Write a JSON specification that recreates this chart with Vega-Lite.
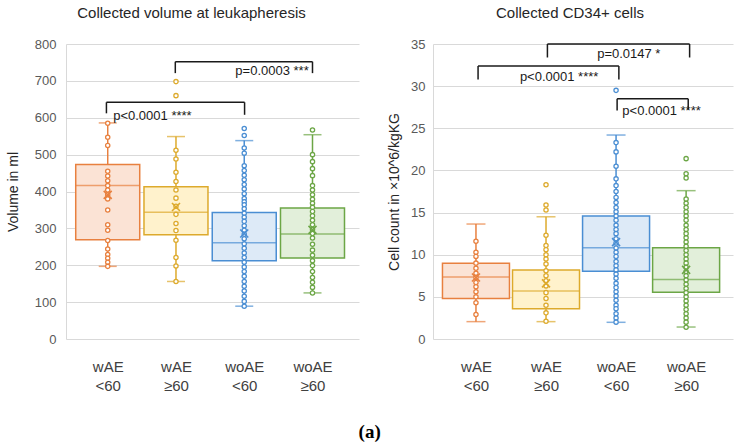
{
  "$schema": "https://vega.github.io/schema/vega-lite/v6.json",
  "background": "white",
  "padding": {"left": 6, "top": 6, "right": 5, "bottom": 5},
  "config": {
    "font": "Liberation Sans",
    "view": {"stroke": null},
    "axis": {"labelFont": "Liberation Sans", "titleFont": "Liberation Sans"}
  },
  "title": {"text": "(a)", "orient": "bottom", "anchor": "middle", "font": "Liberation Serif", "fontSize": 19, "fontWeight": "bold", "color": "#000000", "offset": 30},
  "spacing": 28,
  "datasets": {
    "boxL": [
      {"g": 1, "lo": 197, "q1": 269, "med": 416, "q3": 473, "hi": 586, "mean": 391},
      {"g": 2, "lo": 156, "q1": 283, "med": 344, "q3": 413, "hi": 549, "mean": 358},
      {"g": 3, "lo": 89, "q1": 212, "med": 261, "q3": 343, "hi": 538, "mean": 286},
      {"g": 4, "lo": 125, "q1": 220, "med": 285, "q3": 355, "hi": 554, "mean": 296}
    ],
    "ptsL": [
      {"g": 1, "v": 585}, {"g": 1, "v": 547}, {"g": 1, "v": 525}, {"g": 1, "v": 455}, {"g": 1, "v": 442}, {"g": 1, "v": 429}, {"g": 1, "v": 416}, {"g": 1, "v": 404}, {"g": 1, "v": 391}, {"g": 1, "v": 380}, {"g": 1, "v": 350}, {"g": 1, "v": 310}, {"g": 1, "v": 295}, {"g": 1, "v": 267}, {"g": 1, "v": 244}, {"g": 1, "v": 229}, {"g": 1, "v": 219}, {"g": 1, "v": 208}, {"g": 1, "v": 197},
      {"g": 2, "v": 698}, {"g": 2, "v": 660}, {"g": 2, "v": 512}, {"g": 2, "v": 488}, {"g": 2, "v": 452}, {"g": 2, "v": 427}, {"g": 2, "v": 404}, {"g": 2, "v": 382}, {"g": 2, "v": 360}, {"g": 2, "v": 338}, {"g": 2, "v": 313}, {"g": 2, "v": 294}, {"g": 2, "v": 268}, {"g": 2, "v": 221}, {"g": 2, "v": 198}, {"g": 2, "v": 156},
      {"g": 3, "v": 571}, {"g": 3, "v": 552}, {"g": 3, "v": 518}, {"g": 3, "v": 504}, {"g": 3, "v": 470}, {"g": 3, "v": 457}, {"g": 3, "v": 444}, {"g": 3, "v": 432}, {"g": 3, "v": 419}, {"g": 3, "v": 407}, {"g": 3, "v": 394}, {"g": 3, "v": 381}, {"g": 3, "v": 372}, {"g": 3, "v": 364}, {"g": 3, "v": 353}, {"g": 3, "v": 341}, {"g": 3, "v": 330}, {"g": 3, "v": 319}, {"g": 3, "v": 307}, {"g": 3, "v": 295}, {"g": 3, "v": 284}, {"g": 3, "v": 272}, {"g": 3, "v": 258}, {"g": 3, "v": 246}, {"g": 3, "v": 233}, {"g": 3, "v": 221}, {"g": 3, "v": 208}, {"g": 3, "v": 195}, {"g": 3, "v": 183}, {"g": 3, "v": 170}, {"g": 3, "v": 156}, {"g": 3, "v": 143}, {"g": 3, "v": 130}, {"g": 3, "v": 116}, {"g": 3, "v": 102}, {"g": 3, "v": 89},
      {"g": 4, "v": 567}, {"g": 4, "v": 500}, {"g": 4, "v": 481}, {"g": 4, "v": 462}, {"g": 4, "v": 443}, {"g": 4, "v": 416}, {"g": 4, "v": 404}, {"g": 4, "v": 391}, {"g": 4, "v": 379}, {"g": 4, "v": 368}, {"g": 4, "v": 357}, {"g": 4, "v": 346}, {"g": 4, "v": 334}, {"g": 4, "v": 322}, {"g": 4, "v": 310}, {"g": 4, "v": 297}, {"g": 4, "v": 286}, {"g": 4, "v": 274}, {"g": 4, "v": 257}, {"g": 4, "v": 241}, {"g": 4, "v": 227}, {"g": 4, "v": 212}, {"g": 4, "v": 199}, {"g": 4, "v": 183}, {"g": 4, "v": 167}, {"g": 4, "v": 154}, {"g": 4, "v": 140}, {"g": 4, "v": 125}
    ],
    "brkL": [
      {"x": 0.981, "x2": 3.005, "y": 642, "y2": 642},
      {"x": 0.981, "x2": 0.981, "y": 642, "y2": 612},
      {"x": 3.005, "x2": 3.005, "y": 642, "y2": 608},
      {"x": 1.99, "x2": 4.0, "y": 752, "y2": 752},
      {"x": 1.99, "x2": 1.99, "y": 752, "y2": 721},
      {"x": 4.0, "x2": 4.0, "y": 752, "y2": 721}
    ],
    "txtL": [
      {"x": 1.08, "y": 605, "t": "p<0.0001 ****"},
      {"x": 2.87, "y": 727, "t": "p=0.0003 ***"}
    ],
    "boxR": [
      {"g": 1, "lo": 2.06, "q1": 4.8, "med": 7.36, "q3": 8.98, "hi": 13.64, "mean": 7.3},
      {"g": 2, "lo": 2.06, "q1": 3.58, "med": 5.7, "q3": 8.19, "hi": 14.5, "mean": 6.6},
      {"g": 3, "lo": 1.98, "q1": 8.03, "med": 10.84, "q3": 14.6, "hi": 24.2, "mean": 11.5},
      {"g": 4, "lo": 1.42, "q1": 5.54, "med": 7.05, "q3": 10.84, "hi": 17.6, "mean": 8.2}
    ],
    "ptsR": [
      {"g": 1, "v": 11.6}, {"g": 1, "v": 10.3}, {"g": 1, "v": 9.8}, {"g": 1, "v": 9.0}, {"g": 1, "v": 8.4}, {"g": 1, "v": 7.8}, {"g": 1, "v": 7.3}, {"g": 1, "v": 6.7}, {"g": 1, "v": 6.2}, {"g": 1, "v": 5.6}, {"g": 1, "v": 5.0}, {"g": 1, "v": 4.3}, {"g": 1, "v": 2.9},
      {"g": 2, "v": 18.3}, {"g": 2, "v": 15.9}, {"g": 2, "v": 15.3}, {"g": 2, "v": 12.3}, {"g": 2, "v": 11.1}, {"g": 2, "v": 10.6}, {"g": 2, "v": 10.0}, {"g": 2, "v": 9.5}, {"g": 2, "v": 8.9}, {"g": 2, "v": 8.1}, {"g": 2, "v": 7.5}, {"g": 2, "v": 6.9}, {"g": 2, "v": 6.3}, {"g": 2, "v": 5.5}, {"g": 2, "v": 4.8}, {"g": 2, "v": 4.0}, {"g": 2, "v": 3.1}, {"g": 2, "v": 2.1},
      {"g": 3, "v": 29.5}, {"g": 3, "v": 23.3}, {"g": 3, "v": 22.2}, {"g": 3, "v": 20.5}, {"g": 3, "v": 19.0}, {"g": 3, "v": 18.2}, {"g": 3, "v": 17.5}, {"g": 3, "v": 16.8}, {"g": 3, "v": 16.2}, {"g": 3, "v": 15.6}, {"g": 3, "v": 15.1}, {"g": 3, "v": 14.6}, {"g": 3, "v": 14.1}, {"g": 3, "v": 13.5}, {"g": 3, "v": 13.0}, {"g": 3, "v": 12.5}, {"g": 3, "v": 11.9}, {"g": 3, "v": 11.4}, {"g": 3, "v": 10.8}, {"g": 3, "v": 10.3}, {"g": 3, "v": 9.8}, {"g": 3, "v": 9.2}, {"g": 3, "v": 8.7}, {"g": 3, "v": 8.2}, {"g": 3, "v": 7.7}, {"g": 3, "v": 7.2}, {"g": 3, "v": 6.6}, {"g": 3, "v": 6.1}, {"g": 3, "v": 5.6}, {"g": 3, "v": 5.1}, {"g": 3, "v": 4.6}, {"g": 3, "v": 4.0}, {"g": 3, "v": 3.6}, {"g": 3, "v": 3.0}, {"g": 3, "v": 2.5}, {"g": 3, "v": 2.0},
      {"g": 4, "v": 21.4}, {"g": 4, "v": 19.6}, {"g": 4, "v": 19.1}, {"g": 4, "v": 16.6}, {"g": 4, "v": 16.1}, {"g": 4, "v": 15.6}, {"g": 4, "v": 15.1}, {"g": 4, "v": 14.6}, {"g": 4, "v": 14.1}, {"g": 4, "v": 13.5}, {"g": 4, "v": 13.0}, {"g": 4, "v": 12.5}, {"g": 4, "v": 12.0}, {"g": 4, "v": 11.5}, {"g": 4, "v": 11.0}, {"g": 4, "v": 10.5}, {"g": 4, "v": 10.0}, {"g": 4, "v": 9.5}, {"g": 4, "v": 9.0}, {"g": 4, "v": 8.5}, {"g": 4, "v": 8.0}, {"g": 4, "v": 7.5}, {"g": 4, "v": 7.0}, {"g": 4, "v": 6.5}, {"g": 4, "v": 6.0}, {"g": 4, "v": 5.5}, {"g": 4, "v": 5.0}, {"g": 4, "v": 4.5}, {"g": 4, "v": 4.0}, {"g": 4, "v": 3.5}, {"g": 4, "v": 3.0}, {"g": 4, "v": 2.5}, {"g": 4, "v": 2.0}, {"g": 4, "v": 1.4}
    ],
    "brkR": [
      {"x": 2.02, "x2": 4.05, "y": 35.0, "y2": 35.0},
      {"x": 2.02, "x2": 2.02, "y": 35.0, "y2": 33.4},
      {"x": 4.05, "x2": 4.05, "y": 35.0, "y2": 33.4},
      {"x": 1.03, "x2": 3.04, "y": 32.4, "y2": 32.4},
      {"x": 1.03, "x2": 1.03, "y": 32.4, "y2": 30.8},
      {"x": 3.04, "x2": 3.04, "y": 32.4, "y2": 30.8},
      {"x": 3.015, "x2": 4.03, "y": 28.5, "y2": 28.5},
      {"x": 3.015, "x2": 3.015, "y": 28.5, "y2": 27.1},
      {"x": 4.03, "x2": 4.03, "y": 28.5, "y2": 27.2}
    ],
    "txtR": [
      {"x": 2.73, "y": 33.8, "t": "p=0.0147 *"},
      {"x": 1.627, "y": 31.1, "t": "p<0.0001 ****"},
      {"x": 3.09, "y": 27.07, "t": "p<0.0001 ****"}
    ]
  },
  "hconcat": [
    {
      "width": 293,
      "height": 295,
      "title": {"text": "Collected volume at leukapheresis", "fontSize": 15, "fontWeight": "normal", "color": "#262626", "anchor": "middle", "frame": "group", "dx": -21, "offset": 17},
      "layer": [
        {
          "data": {"name": "boxL"},
          "mark": {"type": "rule", "strokeWidth": 1.5},
          "encoding": {
            "x": {"field": "g", "type": "quantitative", "scale": {"domain": [0.462, 4.608], "nice": false, "zero": false},
              "axis": {"values": [1, 2, 3, 4], "title": null, "grid": false, "ticks": false, "domain": false, "labelPadding": 20, "labelFontSize": 15, "labelColor": "#404040", "labelLineHeight": 19, "labelBaseline": "top", "labelOverlap": false,
                "labelExpr": "datum.value == 1 ? ['wAE', '<60'] : datum.value == 2 ? ['wAE', '≥60'] : datum.value == 3 ? ['woAE', '<60'] : ['woAE', '≥60']"}},
            "y": {"field": "lo", "type": "quantitative", "scale": {"domain": [0, 800], "nice": false},
              "axis": {"title": "Volume in ml", "titleFontSize": 14, "titleFontWeight": "normal", "titleColor": "#262626", "titlePadding": 14, "values": [0, 100, 200, 300, 400, 500, 600, 700, 800], "labelOverlap": false, "labelFontSize": 13, "labelColor": "#595959", "labelPadding": 10, "ticks": false, "domain": true, "domainColor": "#D9D9D9", "gridColor": "#D9D9D9", "gridWidth": 1}},
            "y2": {"field": "hi"},
            "stroke": {"field": "g", "type": "nominal", "scale": {"domain": [1, 2, 3, 4], "range": ["#E8803F", "#DDAA2C", "#4A8ED3", "#6CA646"]}, "legend": null}
          }
        },
        {
          "data": {"name": "boxL"},
          "mark": {"type": "bar", "width": 64, "strokeWidth": 1.5},
          "encoding": {
            "x": {"field": "g", "type": "quantitative"},
            "y": {"field": "q1", "type": "quantitative", "axis": {"title": "Volume in ml", "titleFontSize": 14, "titleFontWeight": "normal", "titleColor": "#262626", "titlePadding": 14, "values": [0, 100, 200, 300, 400, 500, 600, 700, 800], "labelOverlap": false, "labelFontSize": 13, "labelColor": "#595959", "labelPadding": 10, "ticks": false, "domain": true, "domainColor": "#D9D9D9", "gridColor": "#D9D9D9", "gridWidth": 1}},
            "y2": {"field": "q3"},
            "fill": {"field": "g", "type": "nominal", "scale": {"domain": [1, 2, 3, 4], "range": ["#FBE3D5", "#FFF2CC", "#DDEAF7", "#E2EFDA"]}, "legend": null},
            "stroke": {"field": "g", "type": "nominal", "legend": null}
          }
        },
        {
          "data": {"name": "boxL"},
          "mark": {"type": "tick", "orient": "horizontal", "size": 64, "thickness": 1.5},
          "encoding": {
            "x": {"field": "g", "type": "quantitative"},
            "y": {"field": "med", "type": "quantitative", "axis": {"title": "Volume in ml", "titleFontSize": 14, "titleFontWeight": "normal", "titleColor": "#262626", "titlePadding": 14, "values": [0, 100, 200, 300, 400, 500, 600, 700, 800], "labelOverlap": false, "labelFontSize": 13, "labelColor": "#595959", "labelPadding": 10, "ticks": false, "domain": true, "domainColor": "#D9D9D9", "gridColor": "#D9D9D9", "gridWidth": 1}},
            "color": {"field": "g", "type": "nominal", "scale": {"domain": [1, 2, 3, 4], "range": ["#E8803F", "#DDAA2C", "#4A8ED3", "#6CA646"]}, "legend": null}
          }
        },
        {
          "data": {"name": "boxL"},
          "mark": {"type": "tick", "orient": "horizontal", "size": 18, "thickness": 1.5},
          "encoding": {
            "x": {"field": "g", "type": "quantitative"},
            "y": {"field": "hi", "type": "quantitative", "axis": {"title": "Volume in ml", "titleFontSize": 14, "titleFontWeight": "normal", "titleColor": "#262626", "titlePadding": 14, "values": [0, 100, 200, 300, 400, 500, 600, 700, 800], "labelOverlap": false, "labelFontSize": 13, "labelColor": "#595959", "labelPadding": 10, "ticks": false, "domain": true, "domainColor": "#D9D9D9", "gridColor": "#D9D9D9", "gridWidth": 1}},
            "color": {"field": "g", "type": "nominal", "legend": null}
          }
        },
        {
          "data": {"name": "boxL"},
          "mark": {"type": "tick", "orient": "horizontal", "size": 18, "thickness": 1.5},
          "encoding": {
            "x": {"field": "g", "type": "quantitative"},
            "y": {"field": "lo", "type": "quantitative", "axis": {"title": "Volume in ml", "titleFontSize": 14, "titleFontWeight": "normal", "titleColor": "#262626", "titlePadding": 14, "values": [0, 100, 200, 300, 400, 500, 600, 700, 800], "labelOverlap": false, "labelFontSize": 13, "labelColor": "#595959", "labelPadding": 10, "ticks": false, "domain": true, "domainColor": "#D9D9D9", "gridColor": "#D9D9D9", "gridWidth": 1}},
            "color": {"field": "g", "type": "nominal", "legend": null}
          }
        },
        {
          "data": {"name": "ptsL"},
          "mark": {"type": "point", "shape": "circle", "size": 18, "strokeWidth": 1.3, "fill": "white", "filled": false, "fillOpacity": 1, "opacity": 1},
          "encoding": {
            "x": {"field": "g", "type": "quantitative"},
            "y": {"field": "v", "type": "quantitative", "axis": {"title": "Volume in ml", "titleFontSize": 14, "titleFontWeight": "normal", "titleColor": "#262626", "titlePadding": 14, "values": [0, 100, 200, 300, 400, 500, 600, 700, 800], "labelOverlap": false, "labelFontSize": 13, "labelColor": "#595959", "labelPadding": 10, "ticks": false, "domain": true, "domainColor": "#D9D9D9", "gridColor": "#D9D9D9", "gridWidth": 1}},
            "stroke": {"field": "g", "type": "nominal", "legend": null}
          }
        },
        {
          "data": {"name": "boxL"},
          "mark": {"type": "point", "shape": "M-1,-1L1,1M-1,1L1,-1", "size": 64, "strokeWidth": 1.6, "filled": false, "opacity": 1},
          "encoding": {
            "x": {"field": "g", "type": "quantitative"},
            "y": {"field": "mean", "type": "quantitative", "axis": {"title": "Volume in ml", "titleFontSize": 14, "titleFontWeight": "normal", "titleColor": "#262626", "titlePadding": 14, "values": [0, 100, 200, 300, 400, 500, 600, 700, 800], "labelOverlap": false, "labelFontSize": 13, "labelColor": "#595959", "labelPadding": 10, "ticks": false, "domain": true, "domainColor": "#D9D9D9", "gridColor": "#D9D9D9", "gridWidth": 1}},
            "stroke": {"field": "g", "type": "nominal", "legend": null}
          }
        },
        {
          "data": {"name": "brkL"},
          "mark": {"type": "rule", "color": "#1A1A1A", "strokeWidth": 1.5},
          "encoding": {
            "x": {"field": "x", "type": "quantitative"},
            "x2": {"field": "x2"},
            "y": {"field": "y", "type": "quantitative", "axis": {"title": "Volume in ml", "titleFontSize": 14, "titleFontWeight": "normal", "titleColor": "#262626", "titlePadding": 14, "values": [0, 100, 200, 300, 400, 500, 600, 700, 800], "labelOverlap": false, "labelFontSize": 13, "labelColor": "#595959", "labelPadding": 10, "ticks": false, "domain": true, "domainColor": "#D9D9D9", "gridColor": "#D9D9D9", "gridWidth": 1}},
            "y2": {"field": "y2"}
          }
        },
        {
          "data": {"name": "txtL"},
          "mark": {"type": "text", "align": "left", "baseline": "middle", "fontSize": 13, "color": "#1A1A1A", "font": "Liberation Sans"},
          "encoding": {
            "x": {"field": "x", "type": "quantitative"},
            "y": {"field": "y", "type": "quantitative", "axis": {"title": "Volume in ml", "titleFontSize": 14, "titleFontWeight": "normal", "titleColor": "#262626", "titlePadding": 14, "values": [0, 100, 200, 300, 400, 500, 600, 700, 800], "labelOverlap": false, "labelFontSize": 13, "labelColor": "#595959", "labelPadding": 10, "ticks": false, "domain": true, "domainColor": "#D9D9D9", "gridColor": "#D9D9D9", "gridWidth": 1}},
            "text": {"field": "t"}
          }
        }
      ]
    },
    {
      "width": 300,
      "height": 295,
      "title": {"text": "Collected CD34+ cells", "fontSize": 15, "fontWeight": "normal", "color": "#262626", "anchor": "middle", "frame": "group", "dx": -13, "offset": 17},
      "layer": [
        {
          "data": {"name": "boxR"},
          "mark": {"type": "rule", "strokeWidth": 1.5},
          "encoding": {
            "x": {"field": "g", "type": "quantitative", "scale": {"domain": [0.458, 4.598], "nice": false, "zero": false},
              "axis": {"values": [1, 2, 3, 4], "title": null, "grid": false, "ticks": false, "domain": false, "labelPadding": 20, "labelFontSize": 15, "labelColor": "#404040", "labelLineHeight": 19, "labelBaseline": "top", "labelOverlap": false,
                "labelExpr": "datum.value == 1 ? ['wAE', '<60'] : datum.value == 2 ? ['wAE', '≥60'] : datum.value == 3 ? ['woAE', '<60'] : ['woAE', '≥60']"}},
            "y": {"field": "lo", "type": "quantitative", "scale": {"domain": [0, 35], "nice": false},
              "axis": {"title": "Cell count in ×10^6/kgKG", "titleFontSize": 14, "titleFontWeight": "normal", "titleColor": "#262626", "titlePadding": 9, "values": [0, 5, 10, 15, 20, 25, 30, 35], "labelOverlap": false, "labelFontSize": 13, "labelColor": "#595959", "labelPadding": 8, "ticks": false, "domain": true, "domainColor": "#D9D9D9", "gridColor": "#D9D9D9", "gridWidth": 1}},
            "y2": {"field": "hi"},
            "stroke": {"field": "g", "type": "nominal", "scale": {"domain": [1, 2, 3, 4], "range": ["#E8803F", "#DDAA2C", "#4A8ED3", "#6CA646"]}, "legend": null}
          }
        },
        {
          "data": {"name": "boxR"},
          "mark": {"type": "bar", "width": 67, "strokeWidth": 1.5},
          "encoding": {
            "x": {"field": "g", "type": "quantitative"},
            "y": {"field": "q1", "type": "quantitative"},
            "y2": {"field": "q3"},
            "fill": {"field": "g", "type": "nominal", "scale": {"domain": [1, 2, 3, 4], "range": ["#FBE3D5", "#FFF2CC", "#DDEAF7", "#E2EFDA"]}, "legend": null},
            "stroke": {"field": "g", "type": "nominal", "legend": null}
          }
        },
        {
          "data": {"name": "boxR"},
          "mark": {"type": "tick", "orient": "horizontal", "size": 67, "thickness": 1.5},
          "encoding": {
            "x": {"field": "g", "type": "quantitative"},
            "y": {"field": "med", "type": "quantitative"},
            "color": {"field": "g", "type": "nominal", "scale": {"domain": [1, 2, 3, 4], "range": ["#E8803F", "#DDAA2C", "#4A8ED3", "#6CA646"]}, "legend": null}
          }
        },
        {
          "data": {"name": "boxR"},
          "mark": {"type": "tick", "orient": "horizontal", "size": 19, "thickness": 1.5},
          "encoding": {
            "x": {"field": "g", "type": "quantitative"},
            "y": {"field": "hi", "type": "quantitative"},
            "color": {"field": "g", "type": "nominal", "legend": null}
          }
        },
        {
          "data": {"name": "boxR"},
          "mark": {"type": "tick", "orient": "horizontal", "size": 19, "thickness": 1.5},
          "encoding": {
            "x": {"field": "g", "type": "quantitative"},
            "y": {"field": "lo", "type": "quantitative"},
            "color": {"field": "g", "type": "nominal", "legend": null}
          }
        },
        {
          "data": {"name": "ptsR"},
          "mark": {"type": "point", "shape": "circle", "size": 18, "strokeWidth": 1.3, "fill": "white", "filled": false, "fillOpacity": 1, "opacity": 1},
          "encoding": {
            "x": {"field": "g", "type": "quantitative"},
            "y": {"field": "v", "type": "quantitative"},
            "stroke": {"field": "g", "type": "nominal", "legend": null}
          }
        },
        {
          "data": {"name": "boxR"},
          "mark": {"type": "point", "shape": "M-1,-1L1,1M-1,1L1,-1", "size": 64, "strokeWidth": 1.6, "filled": false, "opacity": 1},
          "encoding": {
            "x": {"field": "g", "type": "quantitative"},
            "y": {"field": "mean", "type": "quantitative"},
            "stroke": {"field": "g", "type": "nominal", "legend": null}
          }
        },
        {
          "data": {"name": "brkR"},
          "mark": {"type": "rule", "color": "#1A1A1A", "strokeWidth": 1.5},
          "encoding": {
            "x": {"field": "x", "type": "quantitative"},
            "x2": {"field": "x2"},
            "y": {"field": "y", "type": "quantitative"},
            "y2": {"field": "y2"}
          }
        },
        {
          "data": {"name": "txtR"},
          "mark": {"type": "text", "align": "left", "baseline": "middle", "fontSize": 13, "color": "#1A1A1A", "font": "Liberation Sans"},
          "encoding": {
            "x": {"field": "x", "type": "quantitative"},
            "y": {"field": "y", "type": "quantitative"},
            "text": {"field": "t"}
          }
        }
      ]
    }
  ]
}
